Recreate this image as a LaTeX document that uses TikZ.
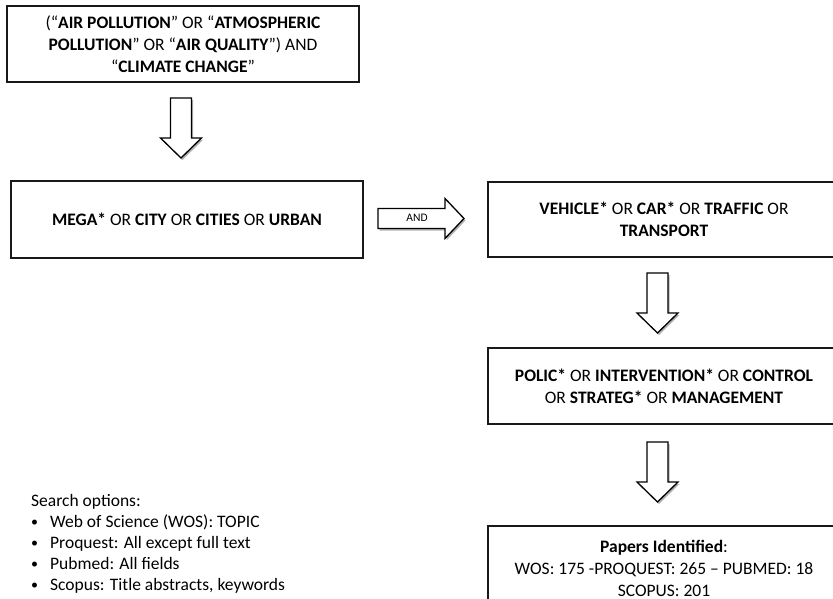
\documentclass[tikz,border=0pt]{standalone}
\usepackage{fontspec}
\setmainfont{Carlito}
\usetikzlibrary{shadows,calc}
\newcommand{\sbul}{\makebox[19pt][l]{\raisebox{0.5pt}{\scalebox{0.8}{•}}}}
\begin{document}
\begin{tikzpicture}[x=1pt,y=-1pt,
  box/.style={draw=black!90, line width=1.6pt, minimum width=352pt, align=center,
    font=\fontsize{17.5}{22}\selectfont, inner sep=0pt},
  blockarrow/.style={draw=black, line width=1.3pt, fill=white, line join=miter,
    drop shadow={shadow xshift=1.5pt, shadow yshift=-2pt, fill=black, opacity=0.3}},
  plain/.style={font=\fontsize{17.5}{21}\selectfont, align=left, inner sep=0pt}
]
\useasboundingbox (0,0) rectangle (833,599);

% boxes
\node[box, minimum height=76pt] (q1) at (183,44)
  {(“\textbf{AIR POLLUTION}” OR “\textbf{ATMOSPHERIC}\\
   \textbf{POLLUTION}” OR “\textbf{AIR QUALITY}”) AND\\
   “\textbf{CLIMATE CHANGE}”};
\node[box, minimum height=77pt] (q2) at (187,219.5)
  {\textbf{MEGA*} OR \textbf{CITY} OR \textbf{CITIES} OR \textbf{URBAN}};
\node[box, minimum height=75pt] (q3) at (664,219.5)
  {\textbf{VEHICLE*} OR \textbf{CAR*} OR \textbf{TRAFFIC} OR\\ \textbf{TRANSPORT}};
\node[box, minimum height=76pt] (q4) at (664,386)
  {\textbf{POLIC*} OR \textbf{INTERVENTION*} OR \textbf{CONTROL}\\
   OR \textbf{STRATEG*} OR \textbf{MANAGEMENT}};
\node[box, anchor=north, inner ysep=14pt, minimum height=96pt] (res) at (664,525)
  {\textbf{Papers Identified}:\\ WOS: 175 -PROQUEST: 265 – PUBMED: 18\\ SCOPUS: 201\\ \strut};

% search options
\node[plain, anchor=north west] (opts) at (31,494)
  {Search options:\\
   \sbul Web of Science (WOS): TOPIC\\
   \sbul Proquest: All except full text\\
   \sbul Pubmed: All fields\\
   \sbul Scopus: Title abstracts, keywords};

% block arrows
\coordinate (a1) at (181,98);
\coordinate (a2) at (657.5,273);
\coordinate (a3) at (657.5,442);
\coordinate (a4) at (378,218);
\foreach \c/\len in {a1/40, a2/40, a3/40}{
  \draw[blockarrow] ($(\c)+(-10.5,0)$) -- ++(21,0) -- ++(0,\len) -- ++(10,0)
    -- ++(-20.5,20) -- ++(-20.5,-20) -- ++(10,0) -- cycle;
}
\draw[blockarrow] ($(a4)+(0,-9.5)$) -- ++(67,0) -- ++(0,-10) -- ++(19,20)
  -- ++(-19,20) -- ++(0,-10) -- ++(-67,0) -- cycle;
\node[font=\fontsize{11.5}{12}\selectfont, inner sep=0pt] (andlbl) at ($(a4)+(39,0)$) {AND};
\end{tikzpicture}
\end{document}
